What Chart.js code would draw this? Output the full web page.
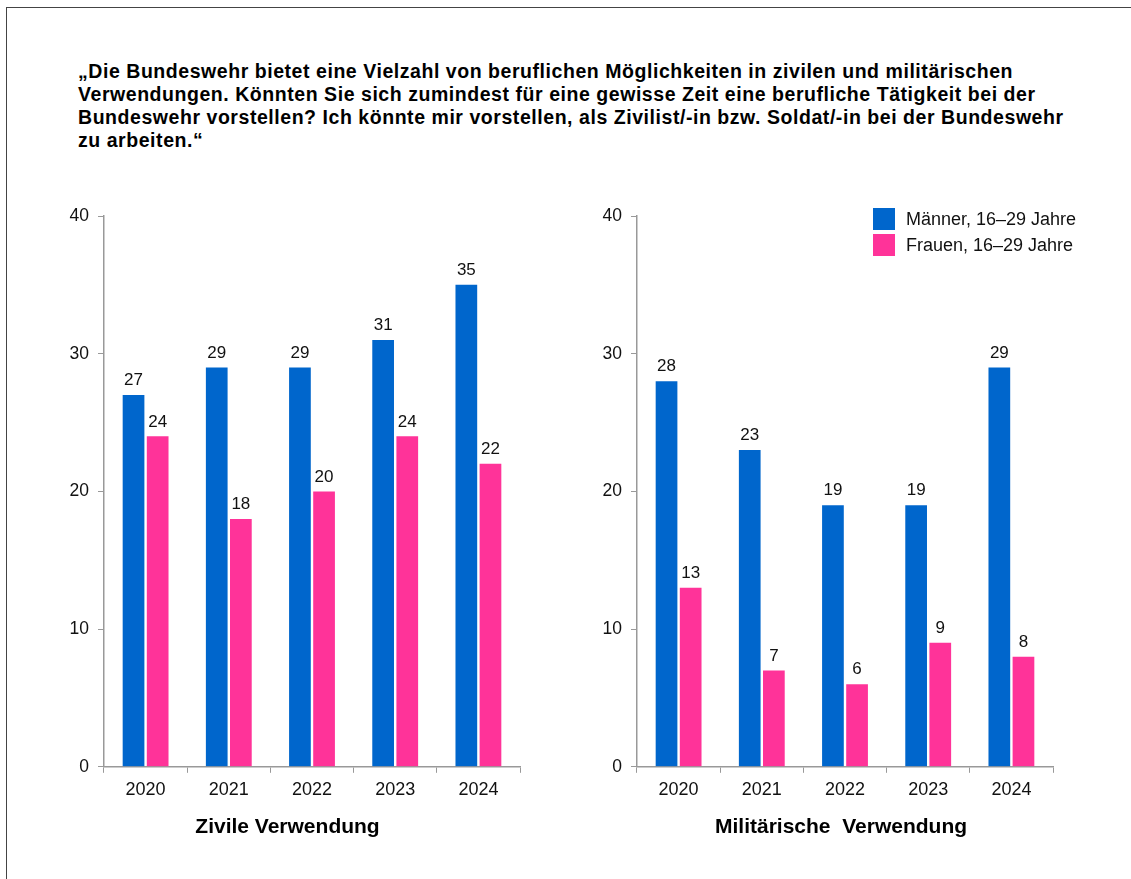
<!DOCTYPE html>
<html>
<head>
<meta charset="utf-8">
<script src="https://cdn.jsdelivr.net/npm/chart.js@4"></script>
<style>
  body { margin: 0; background: #fff; font-family: "Liberation Sans", Arial, sans-serif; }
  #frame { position: absolute; left: 6px; top: 7px; width: 1200px; height: 1000px; border: 1px solid #444; }
  #title { position: absolute; left: 78px; top: 60px; font-weight: bold; font-size: 19.5px; letter-spacing: 0.55px; line-height: 23px; color: #000; white-space: nowrap; }
  #leftWrap { position: absolute; left: 40px; top: 190px; width: 495px; height: 670px; }
  #rightWrap { position: absolute; left: 573px; top: 190px; width: 536px; height: 670px; }
  #legend { position: absolute; left: 873px; top: 206px; font-size: 18px; color: #111; }
  .item { display: flex; align-items: center; height: 26px; }
  .box { width: 22px; height: 22px; margin-right: 11px; }
</style>
</head>
<body>
<div id="frame"></div>
<div id="title">„Die Bundeswehr bietet eine Vielzahl von beruflichen Möglichkeiten in zivilen und militärischen<br>Verwendungen. Könnten Sie sich zumindest für eine gewisse Zeit eine berufliche Tätigkeit bei der<br>Bundeswehr vorstellen? Ich könnte mir vorstellen, als Zivilist/-in bzw. Soldat/-in bei der Bundeswehr<br>zu arbeiten.“</div>
<div id="leftWrap"><canvas id="zivil"></canvas></div>
<div id="rightWrap"><canvas id="militaer"></canvas></div>
<div id="legend"></div>
<script>
// Daten aus der Grafik
const years = ['2020', '2021', '2022', '2023', '2024'];
const seriesNames = ['Männer, 16–29 Jahre', 'Frauen, 16–29 Jahre'];
const seriesColors = ['#0066CC', '#FF3399'];
const zivilMaenner = [27, 29, 29, 31, 35];
const zivilFrauen = [24, 18, 20, 24, 22];
const militaerMaenner = [28, 23, 19, 19, 29];
const militaerFrauen = [13, 7, 6, 9, 8];
const yTicks = [0, 10, 20, 30, 40];

const FONT = '"Liberation Sans", Arial, sans-serif';

// Werte über den Balken
const valueLabels = {
  id: 'valueLabels',
  afterDatasetsDraw(chart) {
    const ctx = chart.ctx;
    ctx.save();
    ctx.font = '17px ' + FONT;
    ctx.fillStyle = '#111';
    ctx.textAlign = 'center';
    ctx.textBaseline = 'bottom';
    chart.data.datasets.forEach((ds, i) => {
      chart.getDatasetMeta(i).data.forEach((bar, j) => {
        ctx.fillText(ds.data[j], bar.x, bar.y - 6);
      });
    });
    ctx.restore();
  }
};

// rightSpace: leerer Rand rechts neben der Zeichenfläche (Titel bleibt auf Canvas zentriert)
function makeChart(id, men, women, title, rightSpace) {
  return new Chart(document.getElementById(id), {
    type: 'bar',
    data: {
      labels: years,
      datasets: [
        { label: seriesNames[0], data: men, backgroundColor: seriesColors[0] },
        { label: seriesNames[1], data: women, backgroundColor: seriesColors[1] }
      ]
    },
    options: {
      responsive: true,
      maintainAspectRatio: false,
      animation: false,
      categoryPercentage: 0.58,
      barPercentage: 0.9,
      layout: { padding: { top: 26, right: 0, left: 0, bottom: 0 } },
      plugins: {
        legend: { display: false },
        tooltip: { enabled: false },
        title: {
          display: true,
          text: title,
          position: 'bottom',
          color: '#000',
          font: { family: FONT, size: 21, weight: 'bold' },
          padding: { top: 8, bottom: 20 }
        }
      },
      scales: {
        x: {
          grid: { display: true, drawOnChartArea: false, tickLength: 6, color: '#999' },
          border: { color: '#999', width: 1.5 },
          ticks: { color: '#111', font: { family: FONT, size: 18 }, padding: 6 },
          afterFit(scale) { scale.height = 40; }
        },
        y: {
          min: 0,
          max: 40,
          afterBuildTicks(scale) { scale.ticks = yTicks.map(v => ({ value: v })); },
          grid: { display: true, drawOnChartArea: false, tickLength: 6, color: '#999' },
          border: { color: '#999', width: 1.5 },
          ticks: { color: '#111', font: { family: FONT, size: 17.5 }, padding: 9 },
          afterFit(scale) { scale.width = 64; }
        },
        spacer: {
          position: 'right',
          grid: { display: false },
          border: { display: false },
          ticks: { display: false },
          afterFit(scale) { scale.width = rightSpace; }
        }
      }
    },
    plugins: [valueLabels]
  });
}

makeChart('zivil', zivilMaenner, zivilFrauen, 'Zivile Verwendung', 15);
makeChart('militaer', militaerMaenner, militaerFrauen, 'Militärische  Verwendung', 56);

// Legende
const legend = document.getElementById('legend');
seriesNames.forEach((name, i) => {
  const item = document.createElement('div');
  item.className = 'item';
  item.innerHTML = '<div class="box" style="background:' + seriesColors[i] + '"></div><span>' + name + '</span>';
  legend.appendChild(item);
});
</script>
</body>
</html>
